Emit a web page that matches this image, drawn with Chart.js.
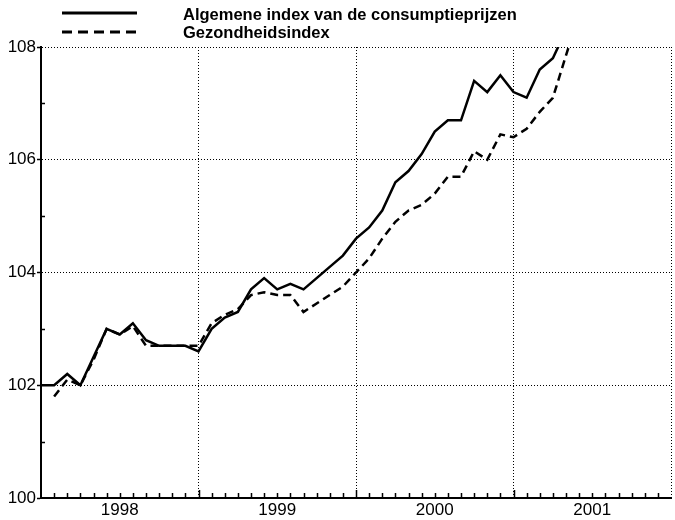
<!DOCTYPE html>
<html>
<head>
<meta charset="utf-8">
<script src="https://cdn.jsdelivr.net/npm/chart.js@4/dist/chart.umd.min.js"></script>
<style>
  body { margin: 0; background: #fff; }
  #wrap { position: relative; width: 675px; height: 520px; font-family: "Liberation Sans", Arial, sans-serif; }
  #myChart { position: absolute; left: 0; top: 0; }
  .legend-line { position: absolute; left: 62px; }
  .legend-text { position: absolute; left: 183px; font-size: 16.5px; font-weight: bold; line-height: 16px; color: #000; white-space: nowrap; }
</style>
</head>
<body>
<div id="wrap">
  <canvas id="myChart" width="675" height="520"></canvas>
  <svg class="legend-line" style="top:8px" width="80" height="10">
    <line x1="0" y1="5" x2="75" y2="5" stroke="#000" stroke-width="3"/>
  </svg>
  <svg class="legend-line" style="top:27px" width="80" height="10">
    <line x1="0" y1="5" x2="75" y2="5" stroke="#000" stroke-width="3" stroke-dasharray="10 6"/>
  </svg>
  <div class="legend-text" style="top:6px">Algemene index van de consumptieprijzen</div>
  <div class="legend-text" style="top:24px">Gezondheidsindex</div>
</div>
<script>
// Years shown on the x axis (one category per month, Jan 1998 .. Jan 2002)
const years = ['1998', '1999', '2000', '2001'];

// Algemene index van de consumptieprijzen, monthly from Jan 1998
const algemeneIndex = [
    102.0, 102.0, 102.2, 102.0, 102.5, 103.0, 102.9, 103.1, 102.8, 102.7, 102.7, 102.7,
    102.6, 103.0, 103.2, 103.3, 103.7, 103.9, 103.7, 103.8, 103.7, 103.9, 104.1, 104.3,
    104.6, 104.8, 105.1, 105.6, 105.8, 106.1, 106.5, 106.7, 106.7, 107.4, 107.2, 107.5,
    107.2, 107.1, 107.6, 107.8, 108.3
];

// Gezondheidsindex, monthly from Jan 1998 (no value for the first month)
const gezondheidsIndex = [
    null, 101.8, 102.1, 102.0, 102.45, 103.0, 102.9, 103.05, 102.7, 102.7, 102.7, 102.7,
    102.7, 103.1, 103.25, 103.35, 103.6, 103.65, 103.6, 103.6, 103.3, 103.45, 103.6, 103.75,
    104.0, 104.25, 104.6, 104.9, 105.1, 105.2, 105.4, 105.7, 105.7, 106.15, 106.0, 106.45,
    106.4, 106.55, 106.85, 107.1, 107.85, 108.6
];

// y axis: labelled ticks and small unlabelled ticks
const yMin = 100;
const yMax = 108;
const yMinorTicks = [101, 103, 105, 107];

// build month labels (categories) from the years
const monthLabels = [];
years.forEach(function (y) {
    for (let m = 1; m <= 12; m++) {
        monthLabels.push(y + '-' + (m < 10 ? '0' + m : m));
    }
});
monthLabels.push('2002-01');

// small tick marks drawn inside the plot, placed with the chart's own scales
const minorTicks = {
    id: 'minorTicks',
    afterDatasetsDraw(chart) {
        const { ctx, chartArea, scales } = chart;
        const x = scales.x;
        const y = scales.y;
        ctx.save();
        ctx.strokeStyle = '#000';
        ctx.lineWidth = 1.5;
        ctx.beginPath();
        for (let i = 1; i < monthLabels.length - 1; i++) {
            const px = Math.round(x.getPixelForValue(i)) + 0.5;
            const len = i % 12 === 0 ? 8 : 5;
            ctx.moveTo(px, chartArea.bottom);
            ctx.lineTo(px, chartArea.bottom - len);
        }
        yMinorTicks.forEach(function (v) {
            const py = Math.round(y.getPixelForValue(v)) + 0.5;
            ctx.moveTo(chartArea.left, py);
            ctx.lineTo(chartArea.left + 4, py);
        });
        ctx.stroke();
        ctx.restore();
    }
};

const fontSpec = { family: '"Liberation Sans", Arial, sans-serif', size: 17 };

new Chart(document.getElementById('myChart'), {
    type: 'line',
    data: {
        labels: monthLabels,
        datasets: [
            {
                label: 'Algemene index van de consumptieprijzen',
                data: algemeneIndex,
                borderColor: '#000',
                borderWidth: 2.5,
                pointRadius: 0,
                tension: 0,
                clip: 0
            },
            {
                label: 'Gezondheidsindex',
                data: gezondheidsIndex,
                borderColor: '#000',
                borderWidth: 2.5,
                borderDash: [8, 5],
                pointRadius: 0,
                tension: 0,
                spanGaps: false,
                clip: 0
            }
        ]
    },
    options: {
        responsive: false,
        animation: false,
        devicePixelRatio: 1,
        layout: { padding: { top: 47, right: 4, left: 0, bottom: 0 } },
        plugins: {
            legend: { display: false },
            tooltip: { enabled: false }
        },
        scales: {
            x: {
                type: 'category',
                offset: false,
                afterFit: function (scale) { scale.height = 22; },
                grid: {
                    drawTicks: false,
                    lineWidth: 1,
                    color: function (ctx) {
                        return ctx.index > 0 && ctx.index % 12 === 0 ? '#000' : 'transparent';
                    }
                },
                border: { display: true, color: '#000', width: 2, dash: [1, 2] },
                ticks: {
                    autoSkip: false,
                    maxRotation: 0,
                    minRotation: 0,
                    padding: 2,
                    color: '#000',
                    font: fontSpec,
                    callback: function (value, index) {
                        return index % 12 === 6 ? years[Math.floor(index / 12)] : '';
                    }
                }
            },
            y: {
                min: yMin,
                max: yMax,
                afterFit: function (scale) { scale.width = 41; },
                grid: {
                    lineWidth: 1,
                    tickLength: 4,
                    tickWidth: 1.5,
                    tickColor: '#000',
                    color: function (ctx) {
                        return ctx.tick && ctx.tick.value === yMin ? 'transparent' : '#000';
                    }
                },
                border: { display: true, color: '#000', width: 2, dash: [1, 2] },
                ticks: {
                    stepSize: 2,
                    padding: 1,
                    color: '#000',
                    font: fontSpec
                }
            }
        }
    },
    plugins: [minorTicks]
});
</script>
</body>
</html>
